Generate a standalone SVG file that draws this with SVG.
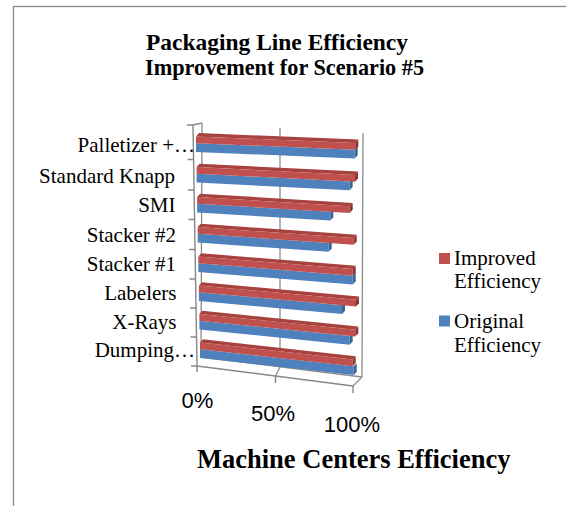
<svg xmlns="http://www.w3.org/2000/svg" width="566" height="506" viewBox="0 0 566 506">
  <style>
    .frame { fill: #ffffff; stroke: #8a8a8a; stroke-width: 1.3; }
    .wall { fill: none; stroke: #8c8c8c; stroke-width: 1.3; }
    .axis { fill: none; stroke: #868686; stroke-width: 1.4; }
    .r-front { fill: #c0504d; }
    .r-top { fill: #a8423f; }
    .r-side { fill: #8c3533; }
    .b-front { fill: #4f81bd; }
    .b-side { fill: #3a6697; }
    .title { font-family: "Liberation Serif", "Times New Roman", serif; font-weight: bold; font-size: 22.5px; fill: #000; }
    .cat { font-family: "Liberation Serif", "Times New Roman", serif; font-size: 21px; fill: #000; text-anchor: end; }
    .legend { font-family: "Liberation Serif", "Times New Roman", serif; font-size: 21px; fill: #000; }
    .val { font-family: "Liberation Sans", Arial, sans-serif; font-size: 22px; fill: #000; text-anchor: middle; }
    .axtitle { font-family: "Liberation Serif", "Times New Roman", serif; font-weight: bold; font-size: 26.5px; fill: #000; }
  </style>

  <!-- chart frame -->
  <rect class="frame" x="13.5" y="6.5" width="600" height="600"/>

  <!-- title -->
  <g id="title">
    <text class="title" x="146" y="50" textLength="262" lengthAdjust="spacingAndGlyphs">Packaging Line Efficiency</text>
    <text class="title" x="145" y="75" textLength="279" lengthAdjust="spacingAndGlyphs">Improvement for Scenario #5</text>
  </g>

  <!-- back wall, side wall and floor -->
  <g id="walls">
    <line class="wall" x1="193" y1="125" x2="202" y2="123"/>
    <line class="wall" x1="202" y1="123" x2="201" y2="357"/>
    <line class="wall" x1="280" y1="127.8" x2="280" y2="367"/>
    <line class="wall" x1="363" y1="133" x2="362" y2="377"/>
    <line class="wall" x1="201" y1="357" x2="362" y2="377"/>
    <line class="wall" x1="280" y1="367" x2="275.5" y2="376"/>
    <line class="wall" x1="362" y1="377" x2="353" y2="386"/>
  </g>

  <!-- bars: each row drawn in its own sheared frame (u along value, h down) -->
  <g id="bars">
    <g id="row-palletizer" transform="matrix(1 0.0408 0 1 196 133)">
      <rect class="b-front" x="0" y="10.2" width="158.7" height="8.8"/>
      <polygon class="b-side" points="158.7,10.2 161.7,6.7 161.7,15.5 158.7,19"/>
      <polygon class="r-top" points="0,3.5 159.3,3.5 162.3,0 3,0"/>
      <rect class="r-front" x="0" y="3.5" width="159.3" height="6.7"/>
      <polygon class="r-side" points="159.3,3.5 162.3,0 162.3,6.7 159.3,10.2"/>
    </g>
    <g id="row-knapp" transform="matrix(1 0.0503 0 1 196.6 163.5)">
      <rect class="b-front" x="0" y="10.2" width="153.1" height="8.8"/>
      <polygon class="b-side" points="153.1,10.2 156.1,6.7 156.1,15.5 153.1,19"/>
      <polygon class="r-top" points="0,3.5 158.4,3.5 161.4,0 3,0"/>
      <rect class="r-front" x="0" y="3.5" width="158.4" height="6.7"/>
      <polygon class="r-side" points="158.4,3.5 161.4,0 161.4,6.7 158.4,10.2"/>
    </g>
    <g id="row-smi" transform="matrix(1 0.0606 0 1 197.1 193.5)">
      <rect class="b-front" x="0" y="10.2" width="133.2" height="8.8"/>
      <polygon class="b-side" points="133.2,10.2 136.2,6.7 136.2,15.5 133.2,19"/>
      <polygon class="r-top" points="0,3.5 152.6,3.5 155.6,0 3,0"/>
      <rect class="r-front" x="0" y="3.5" width="152.6" height="6.7"/>
      <polygon class="r-side" points="152.6,3.5 155.6,0 155.6,6.7 152.6,10.2"/>
    </g>
    <g id="row-stacker2" transform="matrix(1 0.0710 0 1 197.7 223.5)">
      <rect class="b-front" x="0" y="10.2" width="131" height="8.8"/>
      <polygon class="b-side" points="131,10.2 134,6.7 134,15.5 131,19"/>
      <polygon class="r-top" points="0,3.5 156,3.5 159,0 3,0"/>
      <rect class="r-front" x="0" y="3.5" width="156" height="6.7"/>
      <polygon class="r-side" points="156,3.5 159,0 159,6.7 156,10.2"/>
    </g>
    <g id="row-stacker1" transform="matrix(1 0.0808 0 1 198.3 253)">
      <rect class="b-front" x="0" y="10.2" width="154.4" height="8.8"/>
      <polygon class="b-side" points="154.4,10.2 157.4,6.7 157.4,15.5 154.4,19"/>
      <polygon class="r-top" points="0,3.5 154.4,3.5 157.4,0 3,0"/>
      <rect class="r-front" x="0" y="3.5" width="154.4" height="6.7"/>
      <polygon class="r-side" points="154.4,3.5 157.4,0 157.4,6.7 154.4,10.2"/>
    </g>
    <g id="row-labelers" transform="matrix(1 0.0907 0 1 198.9 282)">
      <rect class="b-front" x="0" y="10.2" width="143.1" height="8.8"/>
      <polygon class="b-side" points="143.1,10.2 146.1,6.7 146.1,15.5 143.1,19"/>
      <polygon class="r-top" points="0,3.5 157.1,3.5 160.1,0 3,0"/>
      <rect class="r-front" x="0" y="3.5" width="157.1" height="6.7"/>
      <polygon class="r-side" points="157.1,3.5 160.1,0 160.1,6.7 157.1,10.2"/>
    </g>
    <g id="row-xrays" transform="matrix(1 0.1012 0 1 199.4 310.5)">
      <rect class="b-front" x="0" y="10.2" width="150.3" height="8.8"/>
      <polygon class="b-side" points="150.3,10.2 153.3,6.7 153.3,15.5 150.3,19"/>
      <polygon class="r-top" points="0,3.5 155.9,3.5 158.9,0 3,0"/>
      <rect class="r-front" x="0" y="3.5" width="155.9" height="6.7"/>
      <polygon class="r-side" points="155.9,3.5 158.9,0 158.9,6.7 155.9,10.2"/>
    </g>
    <g id="row-dumping" transform="matrix(1 0.1113 0 1 200 339)">
      <rect class="b-front" x="0" y="10.2" width="153.7" height="8.8"/>
      <polygon class="b-side" points="153.7,10.2 156.7,6.7 156.7,15.5 153.7,19"/>
      <polygon class="r-top" points="0,3.5 152.7,3.5 155.7,0 3,0"/>
      <rect class="r-front" x="0" y="3.5" width="152.7" height="6.7"/>
      <polygon class="r-side" points="152.7,3.5 155.7,0 155.7,6.7 152.7,10.2"/>
    </g>
  </g>

  <!-- category axis with ticks, value axis edge with ticks -->
  <g id="axes">
    <line class="axis" x1="193" y1="125" x2="197" y2="366"/>
    <path class="axis" d="M187 125H193 M187.6 159.5H193.6 M188.1 190H194.1 M188.6 219.5H194.6 M189.1 249.5H195.1 M189.6 279H195.6 M190.1 308H196.1 M190.6 337H196.6 M191 366H197"/>
    <line class="axis" x1="197" y1="366" x2="353" y2="386"/>
    <path class="axis" d="M197 366V372 M275.5 376V383 M353 386V393"/>
  </g>

  <!-- category labels -->
  <g id="categories">
    <text class="cat" x="195" y="151.5">Palletizer +…</text>
    <text class="cat" x="175" y="183">Standard Knapp</text>
    <text class="cat" x="175.5" y="212">SMI</text>
    <text class="cat" x="176" y="242">Stacker #2</text>
    <text class="cat" x="176" y="271">Stacker #1</text>
    <text class="cat" x="176.5" y="300">Labelers</text>
    <text class="cat" x="176.5" y="328.5">X-Rays</text>
    <text class="cat" x="195" y="357">Dumping…</text>
  </g>

  <!-- value labels -->
  <g id="values">
    <text class="val" x="197.5" y="408">0%</text>
    <text class="val" x="273" y="420.5">50%</text>
    <text class="val" x="352" y="431.5">100%</text>
  </g>

  <text id="axis-title" class="axtitle" x="197" y="468">Machine Centers Efficiency</text>

  <!-- legend -->
  <g id="legend">
    <g id="legend-improved">
      <rect class="r-front" x="439" y="253" width="11" height="11"/>
      <text class="legend" x="454" y="265">Improved</text>
      <text class="legend" x="454" y="288">Efficiency</text>
    </g>
    <g id="legend-original">
      <rect class="b-front" x="439" y="315.5" width="11" height="11"/>
      <text class="legend" x="454" y="328">Original</text>
      <text class="legend" x="454" y="352">Efficiency</text>
    </g>
  </g>
</svg>
